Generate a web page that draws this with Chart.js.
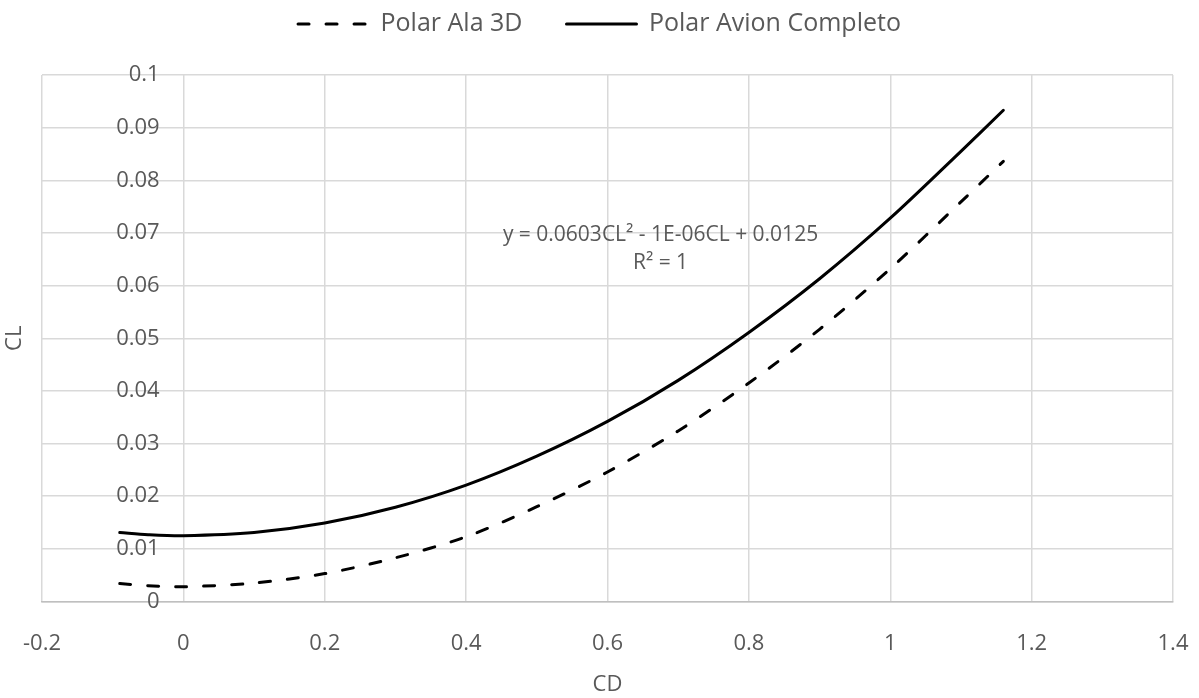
<!DOCTYPE html>
<html>
<head>
<meta charset="utf-8">
<script src="https://cdn.jsdelivr.net/npm/chart.js@4.4.1/dist/chart.umd.min.js"></script>
<style>
  html, body { margin: 0; padding: 0; background: #ffffff; }
  #wrap { width: 1199px; height: 698px; }
</style>
</head>
<body>
<div id="wrap"><canvas id="polarChart"></canvas></div>
<script>
// values
const cdValues  = [-0.09, -0.05, 0, 0.1, 0.2, 0.3, 0.4, 0.5, 0.6, 0.7, 0.8, 0.9, 1.0, 1.1, 1.16];
const clAla3D   = [0.0034, 0.0030, 0.0028, 0.0035, 0.0053, 0.0083, 0.0123, 0.0180, 0.0246, 0.0324, 0.0415, 0.0517, 0.0632, 0.0759, 0.0836];
const clAvion   = [0.0131, 0.0127, 0.0125, 0.0131, 0.0149, 0.0179, 0.0221, 0.0276, 0.0342, 0.0420, 0.0511, 0.0613, 0.0728, 0.0855, 0.0933];
const seriesNames = ['Polar Ala 3D', 'Polar Avion Completo'];

// axis ranges / ticks
const xTicks = { min: -0.2, max: 1.4, step: 0.2 };
const yTicks = { min: 0, max: 0.1, step: 0.01 };

// trendline label (text and anchor in data units)
const trendText = ['y = 0.0603CL\u00B2 - 1E-06CL + 0.0125', 'R\u00B2 = 1'];
const trendAnchorX = 0.675;
const trendAnchorY = [0.0697, 0.0642];

const textColor = '#595959';
const fontFamily = "'Open Sans', sans-serif";

function toPoints(ys) {
    return cdValues.map((x, i) => ({ x: x, y: ys[i] }));
}

// extra space between legend and plot, and re-centre the legend row
const legendSpacer = {
    id: 'legendSpacer',
    beforeInit(chart) {
        const origFit = chart.legend.fit;
        chart.legend.fit = function fit() {
            origFit.bind(chart.legend)();
            this.height += 28.5;
            if (this.lineWidths && this.lineWidths.length) {
                this.lineWidths[0] -= 26;
            }
        };
    }
};

// equation label of the trendline
const trendLabel = {
    id: 'trendLabel',
    afterDatasetsDraw(chart) {
        const ctx = chart.ctx;
        const xs = chart.scales.x, ys = chart.scales.y;
        ctx.save();
        ctx.font = "21px " + fontFamily;
        ctx.fillStyle = textColor;
        ctx.textAlign = 'center';
        ctx.textBaseline = 'middle';
        trendText.forEach((t, i) => {
            ctx.fillText(t, xs.getPixelForValue(trendAnchorX), ys.getPixelForValue(trendAnchorY[i]));
        });
        ctx.restore();
    }
};

const ctx = document.getElementById('polarChart');

new Chart(ctx, {
    type: 'scatter',
    data: {
        datasets: [
            {
                label: seriesNames[0],
                data: toPoints(clAla3D),
                showLine: true,
                borderColor: '#000000',
                backgroundColor: '#000000',
                borderWidth: 3,
                borderDash: [11, 17],
                borderCapStyle: 'round',
                pointRadius: 0,
                tension: 0.3
            },
            {
                label: seriesNames[1],
                data: toPoints(clAvion),
                showLine: true,
                borderColor: '#000000',
                backgroundColor: '#000000',
                borderWidth: 3,
                borderCapStyle: 'round',
                pointRadius: 0,
                tension: 0.3
            }
        ]
    },
    options: {
        responsive: true,
        maintainAspectRatio: false,
        animation: false,
        layout: {
            padding: { top: -32.5, right: 26, bottom: 0, left: 0 }
        },
        scales: {
            x: {
                type: 'linear',
                position: 'bottom',
                min: xTicks.min,
                max: xTicks.max,
                afterFit: (axis) => { axis.height = 96.5; },
                ticks: {
                    stepSize: xTicks.step,
                    color: textColor,
                    padding: 0,
                    font: { family: fontFamily, size: 22 },
                    callback: (v) => Number(v.toFixed(1)).toString()
                },
                grid: {
                    color: (c) => (c.tick && c.tick.value === 0 ? '#bfbfbf' : '#d9d9d9'),
                    lineWidth: 1.5,
                    drawTicks: true,
                    tickLength: 29,
                    tickColor: 'rgba(0,0,0,0)'
                },
                border: { color: '#bfbfbf', width: 1.5 },
                title: {
                    display: true,
                    text: 'CD',
                    color: textColor,
                    font: { family: fontFamily, size: 22 },
                    padding: { top: 0, bottom: 0 }
                }
            },
            y: {
                type: 'linear',
                position: { x: -0.0335 },
                min: yTicks.min,
                max: yTicks.max,
                ticks: {
                    stepSize: yTicks.step,
                    color: textColor,
                    padding: 0,
                    font: { family: fontFamily, size: 22 },
                    callback: (v) => Number(v.toFixed(2)).toString()
                },
                grid: { color: '#d9d9d9', lineWidth: 1.5, drawTicks: false },
                border: { display: false }
            },
            yTitle: {
                type: 'linear',
                position: 'left',
                min: yTicks.min,
                max: yTicks.max,
                afterFit: (axis) => { axis.width = 42; },
                ticks: { display: false },
                grid: { display: false, drawTicks: false },
                border: { display: false },
                title: {
                    display: true,
                    text: 'CL',
                    color: textColor,
                    font: { family: fontFamily, size: 22 },
                    padding: { top: 2, bottom: 0 }
                }
            }
        },
        plugins: {
            legend: {
                position: 'top',
                align: 'center',
                labels: {
                    usePointStyle: true,
                    pointStyle: 'line',
                    pointStyleWidth: 70,
                    color: textColor,
                    padding: 44,
                    font: { family: fontFamily, size: 25 },
                    generateLabels(chart) {
                        const items = Chart.defaults.plugins.legend.labels.generateLabels(chart);
                        items.forEach(item => {
                            const ds = chart.data.datasets[item.datasetIndex];
                            item.lineDash = ds.borderDash || [];
                            item.lineWidth = ds.borderWidth;
                            item.lineCap = 'round';
                            item.strokeStyle = ds.borderColor;
                        });
                        return items;
                    }
                }
            },
            tooltip: { enabled: false }
        }
    },
    plugins: [legendSpacer, trendLabel]
});
</script>
</body>
</html>
